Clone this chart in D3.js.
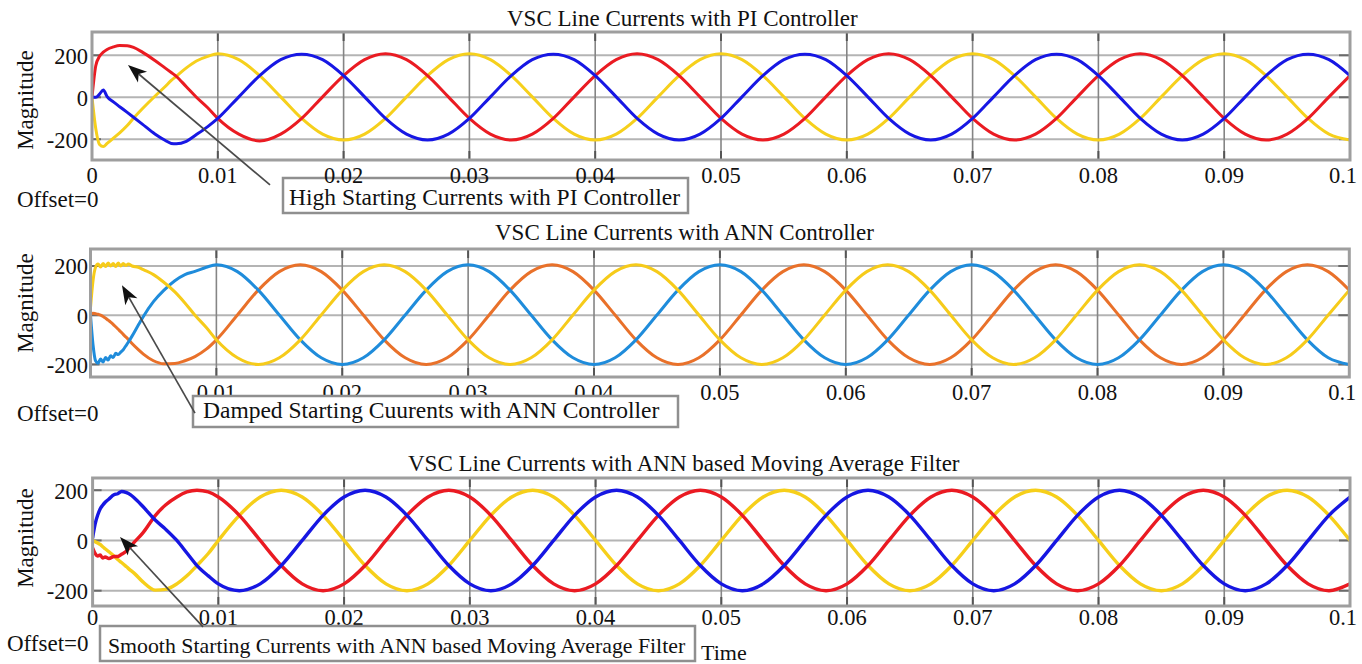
<!DOCTYPE html>
<html><head><meta charset="utf-8">
<script src="https://cdn.jsdelivr.net/npm/d3@7"></script>
<style>
html,body{margin:0;padding:0;background:#fff;}
svg{display:block;}
text{font-family:"Liberation Serif","Times New Roman",serif;fill:#111;}
</style>
</head><body>
<svg id="chart" width="1362" height="664"></svg>
<script>
// ---------------- data ----------------
const xTickValues = [0, 0.01, 0.02, 0.03, 0.04, 0.05, 0.06, 0.07, 0.08, 0.09, 0.1];
const xTickLabels = ["0", "0.01", "0.02", "0.03", "0.04", "0.05", "0.06", "0.07", "0.08", "0.09", "0.1"];
const yTickValues = [-200, 0, 200];
const yTickLabels = ["-200", "0", "200"];
const panelTitles = ["VSC Line Currents with PI Controller",
                     "VSC Line Currents with ANN Controller",
                     "VSC Line Currents with ANN based Moving Average Filter"];
const noteTexts = ["High Starting Currents with PI Controller",
                   "Damped Starting Cuurents with ANN Controller",
                   "Smooth Starting Currents with ANN based Moving Average Filter"];
const offsetLabel = "Offset=0";
const yAxisLabel = "Magnitude";
const xAxisLabel = "Time";

// steady-state sample times (s), shared by all panels
const timeSteady = [0.01,0.01167,0.01333,0.015,0.01667,0.01833,0.02,0.02167,0.02333,0.025,0.02667,0.02833,
  0.03,0.03167,0.03333,0.035,0.03667,0.03833,0.04,0.04167,0.04333,0.045,0.04667,0.04833,
  0.05,0.05167,0.05333,0.055,0.05667,0.05833,0.06,0.06167,0.06333,0.065,0.06667,0.06833,
  0.07,0.07167,0.07333,0.075,0.07667,0.07833,0.08,0.08167,0.08333,0.085,0.08667,0.08833,
  0.09,0.09167,0.09333,0.095,0.09667,0.09833,0.1];

// Panel 1: PI controller
const piTimeEarly = [0,0.0003,0.0006,0.0009,0.0012,0.0017,0.0022,0.0028,0.0033,0.004,0.005,0.0058,0.0063,0.0067,0.0075,0.0083,0.0092];
const piRed = [0,150,195,215,228,240,247,246,238,215,175,140,118,100,50,0,-50,
  -101,-176,-208,-176,-101,2,103,179,207,179,103,2,
  -101,-176,-204,-176,-101,2,103,179,207,179,103,2,
  -101,-176,-204,-176,-101,2,103,179,207,179,103,2,
  -101,-176,-204,-176,-101,2,103,179,207,179,103,2,
  -101,-176,-204,-176,-101,2,103];
const piYellow = [0,-150,-225,-235,-220,-195,-170,-135,-100,-55,5,50,80,100,140,173,195,
  207,179,103,2,-101,-176,-204,-176,-101,2,103,179,
  207,179,103,2,-101,-176,-204,-176,-101,2,103,179,
  207,179,103,2,-101,-176,-204,-176,-101,2,103,179,
  207,179,103,2,-101,-176,-204,-176,-101,2,103,179,
  207,179,103,2,-101,-176,-204];
const piBlue = [0,0,15,35,3,-22,-45,-72,-95,-128,-175,-205,-220,-222,-210,-178,-140,
  -101,2,103,179,205,179,103,2,-101,-176,-204,-176,
  -101,2,103,179,205,179,103,2,-101,-176,-204,-176,
  -101,2,103,179,205,179,103,2,-101,-176,-204,-176,
  -101,2,103,179,205,179,103,2,-101,-176,-204,-176,
  -101,2,103,179,205,179,103];

// Panel 2: ANN controller
const annTimeEarly = [0,0.0002,0.0004,0.0006,0.0008,0.001,0.0012,0.0014,0.0016,0.0018,0.002,0.0022,0.0024,0.0026,0.0028,0.003,0.0033,0.0038,0.0042,0.005,0.0058,0.0067,0.0075,0.0083,0.0092];
const annYellow = [30,140,195,208,196,210,198,212,200,210,198,212,200,210,202,208,200,195,185,165,135,95,50,0,-50,
  -100,-173,-200,-173,-100,1,102,177,205,177,102,1,
  -100,-173,-200,-173,-100,1,102,177,205,177,102,1,
  -100,-173,-200,-173,-100,1,102,177,205,177,102,1,
  -100,-173,-200,-173,-100,1,102,177,205,177,102,1,
  -100,-173,-200,-173,-100,1,102];
const annBlue = [0,-120,-185,-195,-178,-190,-172,-182,-165,-172,-155,-160,-150,-140,-125,-110,-85,-40,-5,55,100,140,165,178,195,
  205,177,102,1,-100,-173,-200,-173,-100,1,102,177,
  205,177,102,1,-100,-173,-200,-173,-100,1,102,177,
  205,177,102,1,-100,-173,-200,-173,-100,1,102,177,
  205,177,102,1,-100,-173,-200,-173,-100,1,102,177,
  205,177,102,1,-100,-173,-200];
const annOrange = [5,8,6,4,0,-5,-12,-20,-28,-37,-47,-57,-67,-78,-88,-98,-115,-140,-158,-185,-197,-196,-185,-168,-138,
  -100,1,102,177,205,177,102,1,-100,-173,-200,-173,
  -100,1,102,177,205,177,102,1,-100,-173,-200,-173,
  -100,1,102,177,205,177,102,1,-100,-173,-200,-173,
  -100,1,102,177,205,177,102,1,-100,-173,-200,-173,
  -100,1,102,177,205,177,102];

// Panel 3: ANN based moving average filter
const mafTimeEarly = [0,0.0002,0.0004,0.0006,0.0008,0.001,0.0013,0.0017,0.002,0.0023,0.0027,0.003,0.0033,0.004,0.005,0.0058,0.0067,0.0075,0.0083,0.0092];
const mafBlue = [10,65,100,125,140,152,165,182,186,195,190,182,170,135,80,45,0,-50,-100,-141,
  -173,-200,-173,-100,0,100,173,200,173,100,0,-100,
  -173,-200,-173,-100,0,100,173,200,173,100,0,-100,
  -173,-200,-173,-100,0,100,173,200,173,100,0,-100,
  -173,-200,-173,-100,0,100,173,200,173,100,0,-100,
  -173,-200,-173,-100,0,100,173];
const mafRed = [-30,-52,-62,-58,-70,-66,-72,-64,-64,-55,-42,-25,-8,30,100,141,173,193,200,193,
  173,100,0,-100,-173,-200,-173,-100,0,100,173,200,
  173,100,0,-100,-173,-200,-173,-100,0,100,173,200,
  173,100,0,-100,-173,-200,-173,-100,0,100,173,200,
  173,100,0,-100,-173,-200,-173,-100,0,100,173,200,
  173,100,0,-100,-173,-200,-173];
const mafYellow = [0,-5,-10,-16,-25,-33,-45,-62,-76,-88,-105,-118,-130,-165,-198,-195,-173,-141,-100,-52,
  0,100,173,200,173,100,0,-100,-173,-200,-173,-100,
  0,100,173,200,173,100,0,-100,-173,-200,-173,-100,
  0,100,173,200,173,100,0,-100,-173,-200,-173,-100,
  0,100,173,200,173,100,0,-100,-173,-200,-173,-100,
  0,100,173,200,173,100,0];

// ---------------- layout ----------------
const panels = [
  { time: piTimeEarly.concat(timeSteady),
    series: [{v: piYellow, c: "#f6d01c"}, {v: piRed, c: "#ea1b22"}, {v: piBlue, c: "#1717e4"}],
    left: 92, right: 1350, top: 32, bottom: 160, yDom: [-299, 311],
    titleX: 507, titleBase: 26, tickBase: 183, zeroLabel: true,
    offX: 17, offBase: 207, magY: 100, lw: 3,
    note: {tip: [0.00286, 154], tail: [0.01415, -418], box: [283, 178, 405, 35], tx: 289, tb: 205, size: 23.5, under: true}
  },
  { time: annTimeEarly.concat(timeSteady),
    series: [{v: annOrange, c: "#e9712a"}, {v: annBlue, c: "#1f8cdb"}, {v: annYellow, c: "#f6cb1a"}],
    left: 90.5, right: 1349.3, top: 249, bottom: 377, yDom: [-251, 269],
    titleX: 495, titleBase: 240, tickBase: 400, zeroLabel: false,
    offX: 17, offBase: 421, magY: 303, lw: 3,
    note: {tip: [0.0025, 122], tail: [0.0083, -398], box: [193, 396, 485, 31], tx: 203, tb: 418, size: 23.5, under: false}
  },
  { time: mafTimeEarly.concat(timeSteady),
    series: [{v: mafYellow, c: "#f6cf1a"}, {v: mafRed, c: "#ea1a22"}, {v: mafBlue, c: "#1616e2"}],
    left: 92.6, right: 1350, top: 478, bottom: 606, yDom: [-261, 248.5],
    titleX: 408, titleBase: 471, tickBase: 625, zeroLabel: true,
    offX: 7, offBase: 651, magY: 538, lw: 3.4,
    note: {tip: [0.00218, 14], tail: [0.00878, -344], box: [100, 626, 595, 35], tx: 108, tb: 653, size: 21.8, under: false},
    timeLabel: {x: 701, base: 660}
  }
];

const svg = d3.select("#chart");
svg.append("rect").attr("width", 1362).attr("height", 664).attr("fill", "#fff");

panels.forEach((p, i) => {
  const x = d3.scaleLinear().domain([0, 0.1]).range([p.left, p.right]);
  const y = d3.scaleLinear().domain(p.yDom).range([p.bottom, p.top]);
  const g = svg.append("g");

  // title
  g.append("text").attr("x", p.titleX).attr("y", p.titleBase)
    .attr("font-size", 23).text(panelTitles[i]);

  // background
  g.append("rect").attr("x", p.left).attr("y", p.top)
    .attr("width", p.right - p.left).attr("height", p.bottom - p.top).attr("fill", "#fff");

  // horizontal grid
  g.selectAll(".hg").data(yTickValues).join("line")
    .attr("x1", p.left).attr("x2", p.right)
    .attr("y1", d => y(d)).attr("y2", d => y(d))
    .attr("stroke", "#b4b4b4").attr("stroke-width", 2);
  // vertical grid
  g.selectAll(".vg").data(xTickValues.slice(1, -1)).join("line")
    .attr("x1", d => x(d)).attr("x2", d => x(d))
    .attr("y1", p.top).attr("y2", p.bottom)
    .attr("stroke", "#858585").attr("stroke-width", 1.6);
  // small ticks on edges
  [[p.left, p.left + 9], [p.right - 11, p.right]].forEach(([a, b]) => {
    g.selectAll(null).data(yTickValues).join("line")
      .attr("x1", a).attr("x2", b).attr("y1", d => y(d)).attr("y2", d => y(d))
      .attr("stroke", "#6a6a6a").attr("stroke-width", 2);
  });
  [[p.top, p.top + 9], [p.bottom - 9, p.bottom]].forEach(([a, b]) => {
    g.selectAll(null).data(xTickValues.slice(1, -1)).join("line")
      .attr("x1", d => x(d)).attr("x2", d => x(d)).attr("y1", a).attr("y2", b)
      .attr("stroke", "#555").attr("stroke-width", 2);
  });

  // waveforms
  const clipId = "clip" + i;
  svg.append("clipPath").attr("id", clipId).append("rect")
    .attr("x", p.left).attr("y", p.top).attr("width", p.right - p.left).attr("height", p.bottom - p.top);
  const line = d3.line().x((d, k) => x(p.time[k])).y(d => y(d)).curve(d3.curveMonotoneX);
  g.append("g").attr("clip-path", `url(#${clipId})`)
    .selectAll("path").data(p.series).join("path")
    .attr("d", s => line(s.v)).attr("fill", "none")
    .attr("stroke", s => s.c).attr("stroke-width", p.lw)
    .attr("stroke-linejoin", "round").attr("stroke-linecap", "round");

  // frame
  g.append("rect").attr("x", p.left).attr("y", p.top)
    .attr("width", p.right - p.left).attr("height", p.bottom - p.top)
    .attr("fill", "none").attr("stroke", "#9e9e9e").attr("stroke-width", 3);

  // y tick labels
  g.selectAll(".yl").data(yTickValues).join("text")
    .attr("x", 88).attr("y", d => y(d) + 8.5).attr("text-anchor", "end")
    .attr("font-size", 22.5).text((d, k) => yTickLabels[k]);

  // y axis label
  g.append("text").attr("transform", `translate(33,${p.magY}) rotate(-90)`)
    .attr("text-anchor", "middle").attr("font-size", 23).text(yAxisLabel);

  const noteLayer = () => {
    const n = p.note;
    const [bx, by, bw, bh] = n.box;
    g.append("rect").attr("x", bx).attr("y", by).attr("width", bw).attr("height", bh)
      .attr("fill", "#fff").attr("stroke", "#8f8f8f").attr("stroke-width", 2.5);
    g.append("text").attr("x", n.tx).attr("y", n.tb).attr("font-size", n.size).text(noteTexts[i]);
  };
  if (p.note.under) noteLayer();

  // x tick labels (last one kept inside the picture)
  const xl = xTickValues.map((v, k) => ({v, t: xTickLabels[k]})).filter(d => p.zeroLabel || d.v !== 0);
  g.selectAll(".xl").data(xl).join("text")
    .attr("x", d => d.v === 0.1 ? x(d.v) + 7 : x(d.v)).attr("y", p.tickBase)
    .attr("text-anchor", d => d.v === 0.1 ? "end" : "middle")
    .attr("font-size", 22.5).text(d => d.t);

  g.append("text").attr("x", p.offX).attr("y", p.offBase).attr("font-size", 23).text(offsetLabel);
  if (p.timeLabel) g.append("text").attr("x", p.timeLabel.x).attr("y", p.timeLabel.base)
    .attr("font-size", 22).text(xAxisLabel);

  if (!p.note.under) noteLayer();

  // arrow
  const tx = x(p.note.tip[0]), ty = y(p.note.tip[1]);
  const sx = x(p.note.tail[0]), sy = y(p.note.tail[1]);
  const ang = Math.atan2(ty - sy, tx - sx);
  const ux = Math.cos(ang), uy = Math.sin(ang), nx = -uy, ny = ux;
  const L = 19, Wd = 7, notch = 5;
  g.append("line").attr("x1", sx).attr("y1", sy)
    .attr("x2", tx - ux * (L - notch)).attr("y2", ty - uy * (L - notch))
    .attr("stroke", "#4a4a4a").attr("stroke-width", 1.7);
  const pts = [[tx, ty], [tx - ux * L + nx * Wd, ty - uy * L + ny * Wd],
               [tx - ux * (L - notch), ty - uy * (L - notch)],
               [tx - ux * L - nx * Wd, ty - uy * L - ny * Wd]];
  g.append("path").attr("d", "M" + pts.map(q => q.join(",")).join("L") + "Z").attr("fill", "#111");
});
</script>
</body></html>
